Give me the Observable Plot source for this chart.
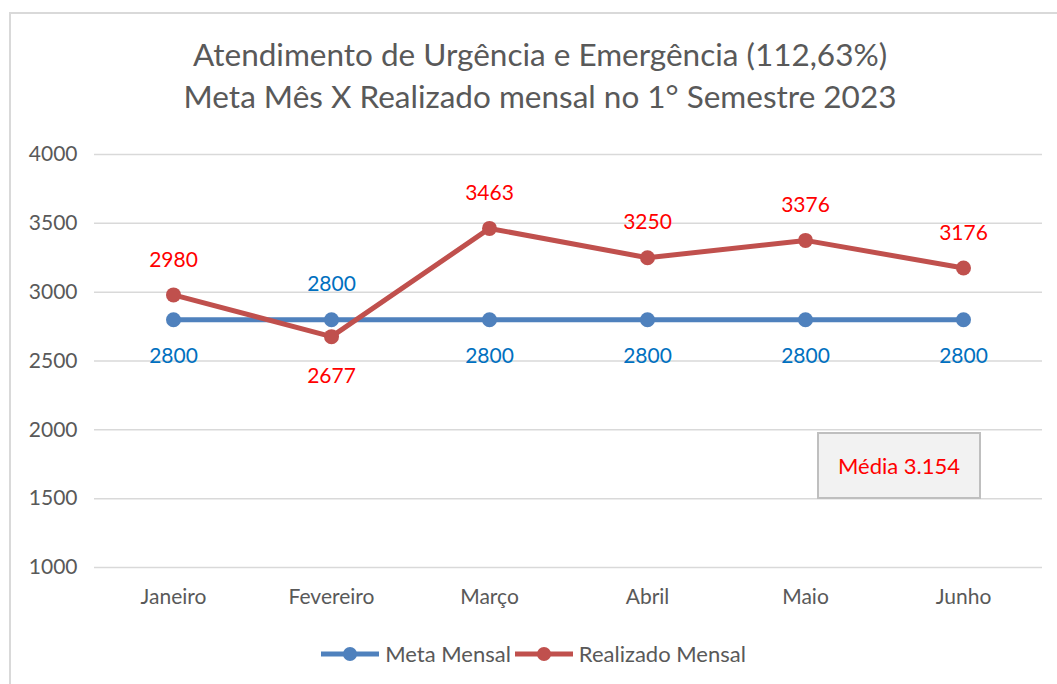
<!DOCTYPE html>
<html>
<head>
<meta charset="utf-8">
<script src="https://cdn.jsdelivr.net/npm/d3@7"></script>
<script src="https://cdn.jsdelivr.net/npm/@observablehq/plot@0.6"></script>
<style>
  html, body { margin: 0; padding: 0; background: #fff; }
  body { width: 1057px; height: 684px; overflow: hidden; position: relative; font-family: Lato, "Open Sans", sans-serif; }
  #frame { position: absolute; left: 9px; top: 12px; width: 1100px; height: 700px; border-left: 2px solid #d9d9d9; border-top: 2px solid #d9d9d9; }
  #title { position: absolute; left: 0; top: 33px; width: 1080px; text-align: center; color: #595959; font-size: 31.5px; line-height: 42px; }
  #chart { position: absolute; left: 0; top: 130px; }
  #media { position: absolute; left: 817px; top: 432px; width: 160px; height: 63px; background: #f2f2f2; border: 2px solid #bfbfbf; color: #ff0000; font-size: 22px; display: flex; align-items: center; justify-content: center; }
  #legend { position: absolute; left: 0; top: 640px; width: 1067px; display: flex; justify-content: center; align-items: center; color: #595959; font-size: 22px; }
  #legend .item { display: flex; align-items: center; margin: 0 2px; }
  #legend svg { margin-right: 6px; }
</style>
</head>
<body>
<div id="frame"></div>
<div id="title">Atendimento de Urgência e Emergência (112,63%)<br>Meta Mês X Realizado mensal no 1° Semestre 2023</div>
<div id="chart"></div>
<div id="media"></div>
<div id="legend"></div>
<script>
const months = ["Janeiro", "Fevereiro", "Março", "Abril", "Maio", "Junho"];
const meta = [2800, 2800, 2800, 2800, 2800, 2800];
const realizado = [2980, 2677, 3463, 3250, 3376, 3176];
const yTicks = [1000, 1500, 2000, 2500, 3000, 3500, 4000];
const mediaValue = 3154;
const seriesNames = ["Meta Mensal", "Realizado Mensal"];
const lineColors = ["#4f81bd", "#c0504d"];
const labelColors = ["#0070c0", "#ff0000"];

const rows = months.map((m, i) => ({month: m, meta: meta[i], real: realizado[i]}));

const fontSize = 21;
const plot = Plot.plot({
  width: 1057,
  height: 487,
  marginLeft: 94,
  marginRight: 15,
  marginTop: 24,
  marginBottom: 50,
  style: {fontFamily: "Lato, 'Open Sans', sans-serif", fontSize: "21px", color: "#595959", background: "transparent"},
  x: {type: "point", domain: months, padding: 0.5, label: null},
  y: {domain: [1000, 4000], ticks: yTicks, label: null, tickFormat: "d"},
  marks: [
    Plot.gridY(yTicks, {stroke: "#d9d9d9", strokeOpacity: 1, strokeWidth: 1.5}),
    Plot.axisY(yTicks, {tickSize: 0, tickPadding: 17, fontSize: 21, fill: "#595959", tickFormat: "d"}),
    Plot.axisX({tickSize: 0, tickPadding: 22, fontSize: 21, fill: "#595959"}),
    Plot.line(rows, {x: "month", y: "meta", stroke: lineColors[0], strokeWidth: 5}),
    Plot.dot(rows, {x: "month", y: "meta", r: 7.5, fill: lineColors[0], stroke: null}),
    Plot.line(rows, {x: "month", y: "real", stroke: lineColors[1], strokeWidth: 5}),
    Plot.dot(rows, {x: "month", y: "real", r: 7.5, fill: lineColors[1], stroke: null}),
    // Meta labels: below unless realizado dips beneath
    Plot.text(rows.filter(d => d.real >= d.meta), {x: "month", y: "meta", text: d => String(d.meta), dy: 37, fill: labelColors[0], fontSize}),
    Plot.text(rows.filter(d => d.real < d.meta), {x: "month", y: "meta", text: d => String(d.meta), dy: -35, fill: labelColors[0], fontSize}),
    // Realizado labels
    Plot.text(rows.filter(d => d.real >= d.meta), {x: "month", y: "real", text: d => String(d.real), dy: -35, fill: labelColors[1], fontSize}),
    Plot.text(rows.filter(d => d.real < d.meta), {x: "month", y: "real", text: d => String(d.real), dy: 40, fill: labelColors[1], fontSize})
  ]
});
document.getElementById("chart").appendChild(plot);

document.getElementById("media").textContent = "Média " + mediaValue.toLocaleString("pt-BR");

const legend = document.getElementById("legend");
seriesNames.forEach((name, i) => {
  const item = document.createElement("div");
  item.className = "item";
  item.innerHTML = `<svg width="58" height="16"><line x1="0" y1="8" x2="58" y2="8" stroke="${lineColors[i]}" stroke-width="5"/><circle cx="29" cy="8" r="7" fill="${lineColors[i]}"/></svg><span>${name}</span>`;
  legend.appendChild(item);
});
</script>
</body>
</html>
